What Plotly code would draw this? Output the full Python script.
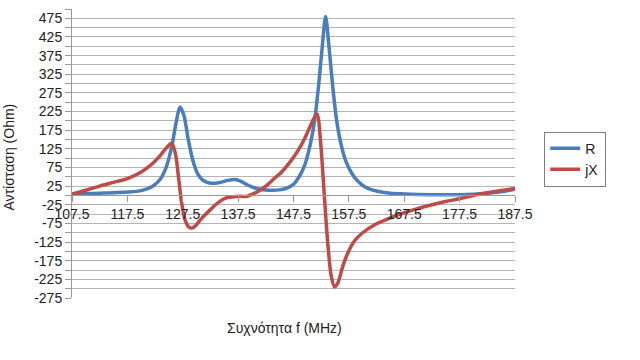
import plotly.graph_objects as go

# Frequencies (MHz) and values (Ohm)
f_R = [107.5, 110, 112.5, 115, 117.5, 120, 122, 123.5, 124.5, 125.5, 126.3, 127, 127.7,
       128.5, 129.3, 130.2, 131.2, 132.5, 134, 135.5, 137, 138, 139.5, 141, 143, 145,
       146.5, 147.5, 148.5, 149.5, 150.5, 151.3, 152, 152.7, 153.3, 153.9, 154.6, 155.3,
       156.2, 157, 158, 159, 160.5, 162.5, 165, 167.5, 172.5, 177.5, 182.5, 185, 187.5]
R = [4, 5, 6, 7, 9, 13, 24, 45, 75, 130, 195, 237, 215,
     150, 95, 58, 40, 33, 34, 40, 43, 38, 26, 18, 14, 15,
     21, 30, 50, 80, 135, 200, 290, 400, 480, 400, 290, 200,
     130, 90, 60, 40, 22, 12, 6, 4, 2, 2, 6, 10, 17]

f_X = [107.5, 110, 112.5, 115, 117.5, 120, 122, 123.5, 124.5, 125.5, 126.2, 126.8, 127.3,
       127.9, 128.6, 129.3, 130, 131, 132.5, 134, 135.5, 137, 138, 139, 140, 141, 142.5,
       144, 145.5, 147, 148.5, 149.5, 150.5, 151.3, 151.8, 152.3, 152.8, 153.2, 153.7,
       154.3, 154.9, 155.5, 156.5, 157.5, 158.5, 160, 162.5, 165, 167.5, 170, 172.5,
       175, 177.5, 180, 182.5, 185, 187.5]
jX = [4, 14, 25, 35, 45, 63, 85, 108, 127, 140, 110, 40, -20,
      -65, -85, -87, -78, -60, -38, -18, -6, -3, -2, -3, 3, 10, 25,
      45, 65, 92, 125, 152, 185, 210, 218, 160, 60, -30, -130,
      -215, -245, -235, -185, -148, -122, -100, -76, -60, -46, -35, -25,
      -16, -9, 0, 7, 13, 19]

x_ticks = [107.5, 117.5, 127.5, 137.5, 147.5, 157.5, 167.5, 177.5, 187.5]
y_grid = list(range(-275, 501, 25))
y_labels = [str(v) if (v + 275) % 50 == 0 else "" for v in y_grid]

BLUE = "#4A7EBB"
RED = "#BE4B48"
FONT = "Liberation Sans"

fig = go.Figure()
fig.add_trace(go.Scatter(x=f_R, y=R, mode="lines", name="R",
                         line=dict(color=BLUE, width=3.5, shape="spline", smoothing=0.8)))
fig.add_trace(go.Scatter(x=f_X, y=jX, mode="lines", name="jX",
                         line=dict(color=RED, width=3.5, shape="spline", smoothing=0.8)))

ymin, ymax = -275, 500
zero_pos = (0 - ymin) / (ymax - ymin)

fig.update_layout(
    width=640, height=360,
    margin=dict(l=72, r=125, t=9, b=62),
    paper_bgcolor="white", plot_bgcolor="white",
    font=dict(family=FONT, size=14, color="#222"),
    showlegend=True,
    legend=dict(x=1.066, y=0.576, xanchor="left", yanchor="top",
                bordercolor="#7f7f7f", borderwidth=1, bgcolor="white",
                font=dict(size=14), tracegroupgap=0, itemwidth=30),
    xaxis=dict(range=[107.5, 187.5], tickvals=x_ticks,
               ticktext=[f"{v:g}" for v in x_ticks],
               showgrid=False, zeroline=False, automargin=False,
               showline=True, linecolor="#999", linewidth=1,
               ticks="outside", ticklen=6, tickcolor="#999",
               anchor="free", position=zero_pos,
               tickfont=dict(size=14)),
    yaxis=dict(range=[ymin, ymax], tickvals=y_grid, ticktext=y_labels,
               showgrid=True, gridcolor="#b4b4b4", gridwidth=1.3,
               zeroline=False, showline=True, linecolor="#999", linewidth=1,
               ticks="outside", ticklen=6, tickcolor="#999", automargin=False,
               tickfont=dict(size=14)),
    annotations=[
        dict(text="Συχνότητα f (MHz)", xref="paper", yref="paper",
             x=(284 - 72) / 443, y=-(327 - 297) / 288, showarrow=False,
             xanchor="center", yanchor="middle", font=dict(size=14)),
        dict(text="Αντίσταση (Ohm)", xref="paper", yref="paper",
             x=-(72 - 9) / 443, y=(297 - 157) / 288, showarrow=False,
             textangle=-90, xanchor="center", yanchor="middle", font=dict(size=14)),
    ],
)

fig.write_html("out.html", config={"displayModeBar": False},
               post_script="document.body.style.margin='0';")
